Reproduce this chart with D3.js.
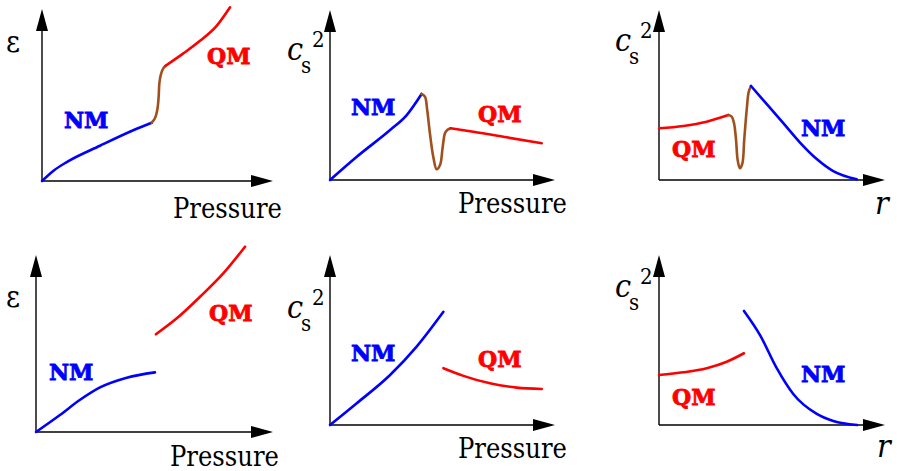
<!DOCTYPE html>
<html><head><meta charset="utf-8">
<script src="https://cdn.jsdelivr.net/npm/d3@7"></script>
<style>
html,body{margin:0;padding:0;background:#fff;}
svg{display:block;}
.tm{font-family:'DejaVu Serif Condensed','DejaVu Serif',serif;font-stretch:condensed;}
.ph{font-family:'DejaVu Serif',serif;font-weight:bold;}
</style></head>
<body>
<svg id="chart" width="897" height="471"></svg>
<script>
// ---- Data (normalized units: 0..100 along each axis, origin to arrow tip) ----
const nm1    = [[0,0],[5,6],[10.7,11],[25.1,20.5],[39.5,29.5],[47.5,33.9]];
const mix1   = [[47.5,33.9],[48.9,36.5],[49.9,41.3],[50.5,49.0],[50.8,56.8],[51.4,61.6],[52.5,65.5],[53.5,67.0]];
const qm1    = [[53.5,67.0],[61.2,74.2],[68.4,81.5],[75.6,90.2],[81.4,101.0]];

const nm2    = [[0,0],[11.9,13.7],[26.7,29.4],[34.1,38.2],[40.7,50.6]];
const mix2   = [[40.7,50.6],[42.2,49.0],[43.2,41.2],[44.4,27.5],[45.9,13.7],[47.4,6.3],[48.9,8.8],[50.1,19.6],[51.1,27.5],[52.1,29.4],[53.6,30.4]];
const qm2    = [[53.6,30.4],[63.7,28.4],[78.5,25.1],[94.1,21.6]];

const qm3    = [[0,30.4],[10.8,31.8],[21.1,34.3],[30.7,38.2]];
const mix3   = [[30.7,38.2],[32.2,37.2],[33.2,33.4],[34.1,23.5],[34.8,11.8],[35.8,6.9],[36.9,9.8],[37.7,23.5],[38.8,41.2],[39.7,51.9],[40.7,55.3]];
const nm3    = [[40.7,55.3],[47.7,44.6],[55.0,33.4],[62.4,22.0],[69.8,12.3],[77.1,5.2],[87.5,0.4]];

const nm4    = [[0,0],[10.1,9.6],[18.6,18.2],[27.0,25.2],[38.3,30.7],[50.2,33.7]];
const qm4    = [[50.6,55.2],[59.4,64.2],[69.2,76.4],[79.0,89.6],[88.2,104.7]];

const nm5    = [[0,0],[11.9,12.8],[26.7,29.4],[38.5,46.1],[50.4,66.6]];
const qm5    = [[50.4,33.4],[59.3,28.9],[71.1,24.5],[83.0,22.0],[94.1,21.2]];

const qm6    = [[0,29.4],[10.8,31.0],[21.1,33.4],[30.0,37.2],[37.6,42.2]];
const nm6    = [[37.6,67.1],[44.7,52.9],[52.1,33.4],[59.4,18.2],[69.8,6.5],[77.1,2.4],[87.7,0]];

const phaseLabels = ["NM","QM"];
const xLabels = ["Pressure","Pressure","r","Pressure","Pressure","r"];
const yLabels = ["ε","cs2","cs2","ε","cs2","cs2"];

// ---- Layout ----
const BLUE="#0000ff", RED="#ff0000", BROWN="#a0501e";
const panels = [
  {ox:42, oy:181, tx:273, ty:9,   series:[[nm1,BLUE,"m"],[mix1,BROWN,"c"],[qm1,RED,"m"]],
   nm:[64,128], qm:[207,64], xl:[173,218], yl:[6,52]},
  {ox:330,oy:180, tx:555, ty:10,  series:[[nm2,BLUE,"m"],[mix2,BROWN,"c"],[qm2,RED,"m"]],
   nm:[351,115], qm:[478,122], xl:[458,213], yl:[287,60]},
  {ox:659,oy:180, tx:885, ty:10,  series:[[qm3,RED,"m"],[mix3,BROWN,"c"],[nm3,BLUE,"m"]],
   nm:[801,136], qm:[672,157], xl:[875,214], yl:[615,51]},
  {ox:36, oy:432, tx:273, ty:255, series:[[nm4,BLUE,"m"],[qm4,RED,"m"]],
   nm:[49,380], qm:[209,321], xl:[170,466], yl:[6,307]},
  {ox:330,oy:425, tx:555, ty:255, series:[[nm5,BLUE,"m"],[qm5,RED,"m"]],
   nm:[351,361], qm:[478,367], xl:[458,458], yl:[287,318]},
  {ox:659,oy:425, tx:885, ty:255, series:[[qm6,RED,"m"],[nm6,BLUE,"m"]],
   nm:[801,382], qm:[672,405], xl:[877,457], yl:[615,297]}
];

const svg = d3.select("#chart");
const AL = 22, AW = 6;

panels.forEach((p,i)=>{
  const x = d3.scaleLinear().domain([0,100]).range([p.ox,p.tx]);
  const y = d3.scaleLinear().domain([0,100]).range([p.oy,p.ty]);
  const g = svg.append("g");
  // axes
  g.append("line").attr("x1",x(0)).attr("y1",y(0)).attr("x2",x(100)-AL+2).attr("y2",y(0))
    .attr("stroke","#000").attr("stroke-width",1.4);
  g.append("line").attr("x1",x(0)).attr("y1",y(0)).attr("x2",x(0)).attr("y2",y(100)+AL-2)
    .attr("stroke","#000").attr("stroke-width",1.4);
  g.append("path").attr("d",`M${x(100)},${y(0)}L${x(100)-AL},${y(0)-AW}L${x(100)-AL},${y(0)+AW}Z`).attr("fill","#000");
  g.append("path").attr("d",`M${x(0)},${y(100)}L${x(0)-AW},${y(100)+AL}L${x(0)+AW},${y(100)+AL}Z`).attr("fill","#000");

  p.series.forEach(([data,col,kind])=>{
    const line = d3.line().x(d=>x(d[0])).y(d=>y(d[1]))
      .curve(kind==="m" ? d3.curveMonotoneX : d3.curveCatmullRom.alpha(0.5));
    g.append("path").attr("d",line(data)).attr("fill","none").attr("stroke",col)
      .attr("stroke-width",2.6).attr("stroke-linecap","round").attr("stroke-linejoin","round");
  });

  const lab = (pos,txt,col)=> g.append("text").attr("class","ph").attr("x",pos[0]).attr("y",pos[1]).text(txt)
      .attr("fill",col).attr("stroke",col).attr("stroke-width",0.8).attr("font-size",22);
  lab(p.nm, phaseLabels[0], BLUE);
  lab(p.qm, phaseLabels[1], RED);

  // x label
  const xl = xLabels[i];
  g.append("text").attr("class","tm").attr("x",p.xl[0]).attr("y",p.xl[1]).text(xl)
    .attr("font-size", xl==="r"?32:27)
    .attr("font-style", xl==="r"?"italic":"normal").attr("fill","#000");

  // y label
  if (yLabels[i]==="ε") {
    g.append("text").attr("class","tm").attr("x",p.yl[0]).attr("y",p.yl[1]).text("ε")
      .attr("font-size",30).attr("fill","#000");
  } else {
    const t = g.append("text").attr("class","tm").attr("fill","#000");
    t.append("tspan").attr("x",p.yl[0]).attr("y",p.yl[1]).attr("font-style","italic").attr("font-size",32).text("c");
    t.append("tspan").attr("x",p.yl[0]+14).attr("y",p.yl[1]+13).attr("font-size",22).text("s");
    t.append("tspan").attr("x",p.yl[0]+25).attr("y",p.yl[1]-13).attr("font-size",22).text("2");
  }
});
</script>
</body></html>
